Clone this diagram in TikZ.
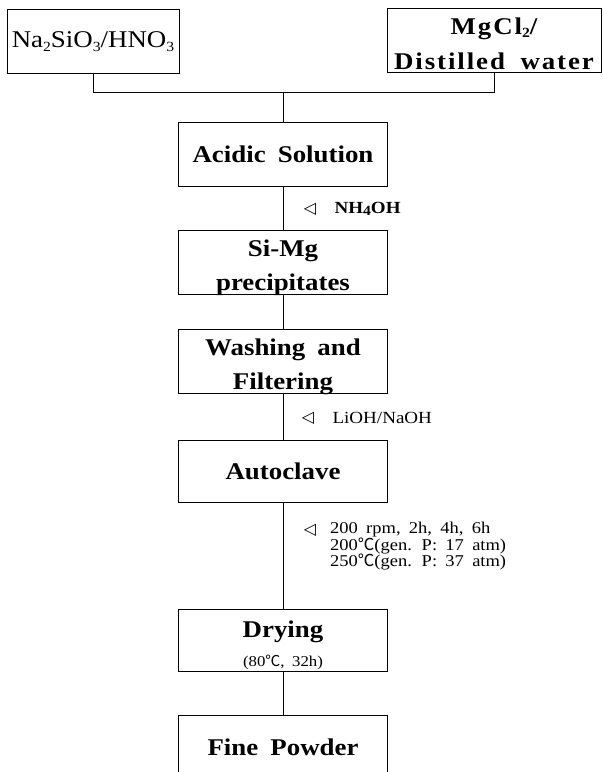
\documentclass[tikz,border=0pt]{standalone}
\usepackage{fontspec}
\setmainfont[FakeStretch=1.12,WordSpace=1.8]{Liberation Serif}
\newfontfamily\cjk{Noto Sans CJK KR}
\newfontfamily\symfont{DejaVu Sans}
\usetikzlibrary{positioning}
\newcommand{\degc}{{\cjk ℃}}
\newcommand{\sub}[1]{\raisebox{-0.3ex}{\fontsize{14}{14}\selectfont #1}}
\newcommand{\toppad}{\rule{0pt}{23pt}}
\tikzset{
  base/.style={draw=black, line width=0.9pt},
  stage/.style={base, minimum width=209pt, minimum height=64pt, inner sep=0pt, align=center, font=\fontsize{24}{34}\selectfont\bfseries},
  feed/.style={base, minimum height=64pt, inner sep=0pt, align=center, font=\fontsize{24}{34}\selectfont},
  tri/.style={inner sep=0pt, font=\symfont\fontsize{16}{16}\selectfont},
  lab/.style={inner sep=0pt, font=\fontsize{17}{17}\selectfont},
  cond/.style={inner sep=0pt, align=left, font=\fontsize{16.5}{16.5}\selectfont},
}

\begin{document}
\begin{tikzpicture}[x=1pt, y=-1pt]
\clip (0,0) rectangle (603,772);
\fill[white] (0,0) rectangle (603,772);
% raw materials
\node[feed, minimum width=172pt] (na) at (93,41.5) {Na\sub{2}SiO\sub{3}/HNO\sub{3}};
\node[feed, minimum width=214pt, font=\fontsize{24}{35}\selectfont\bfseries\addfontfeature{LetterSpace=8}] (mg) at (494,40) {\rule{0pt}{24pt}MgCl\sub{2}/\\\smash{Distilled water}};
\coordinate (join) at (283,92);
% process column
\node[stage] (acid) at (283,154.5) {Acidic Solution};
\node[stage] (simg) at (283,262) {\toppad Si-Mg\\\smash{precipitates}};
\node[stage] (wash) at (283,361) {\toppad Washing and\\\smash{Filtering}};
\node[stage, minimum height=62pt] (auto) at (283,471) {Autoclave};
\node[stage, minimum height=62pt] (dry) at (283,640) {\rule{0pt}{24pt}Drying\\[-5pt]\smash{\fontsize{15}{15}\selectfont\mdseries (80\degc, 32h)}};
\node[stage] (fine) at (283,747.5) {Fine Powder};
% connectors
\draw[base] (na.south) |- (join);
\draw[base] (mg.south) |- (join);
\draw[base] (join) -- (acid.north);
\draw[base] (acid) -- (simg);
\draw[base] (simg) -- (wash);
\draw[base] (wash) -- (auto);
\draw[base] (auto) -- (dry);
\draw[base] (dry) -- (fine);
% additions
\node[tri] (nhtri) at (310,209) {◁};
\node[lab, font=\fontsize{17}{17}\selectfont\bfseries, right=18pt of nhtri] (nhlab) {NH\sub{4}OH};
\node[tri] (litri) at (308,418) {◁};
\node[lab, right=18pt of litri] (lilab) {LiOH/NaOH};
\node[tri] (rtri) at (310,530) {◁};
\node[cond, anchor=north west] (cond) at (330,522) {200 rpm, 2h, 4h, 6h\\200\degc(gen. P: 17 atm)\\250\degc(gen. P: 37 atm)};
\end{tikzpicture}
\end{document}
